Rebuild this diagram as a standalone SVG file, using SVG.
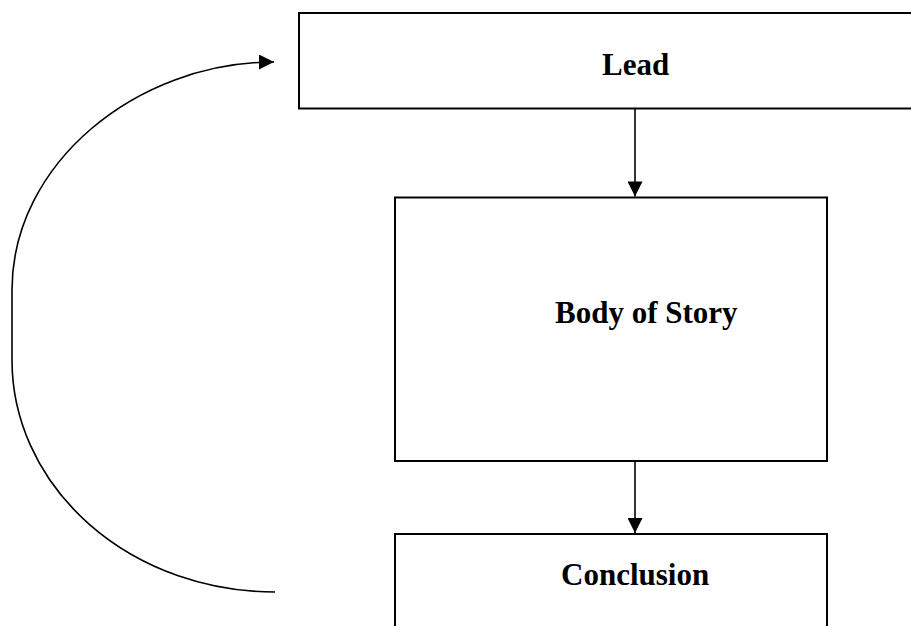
<svg xmlns="http://www.w3.org/2000/svg" width="911" height="626" viewBox="0 0 911 626">
<style>
.box{fill:#fff;stroke:#000;stroke-width:2}
.lbl{font-family:"Liberation Serif","Times New Roman",serif;font-weight:bold;font-size:31px;fill:#000}
.con{fill:none;stroke:#000;stroke-width:1.6}
</style>
<defs>
<marker id="ah" viewBox="0 0 10 10" refX="10" refY="5" markerWidth="10" markerHeight="10" markerUnits="userSpaceOnUse" orient="auto">
<path d="M0,0 L10,5 L0,10 Z" fill="#000"/>
</marker>
<marker id="ahv" viewBox="0 0 16 16" refX="16" refY="8" markerWidth="16" markerHeight="15" markerUnits="userSpaceOnUse" orient="auto">
<path d="M0,0 L16,8 L0,16 Z" fill="#000"/>
</marker>
</defs>
<rect width="911" height="626" fill="#fff"/>
<g id="lead">
<rect class="box" x="299" y="13" width="620" height="95.5"/>
<text class="lbl" x="602" y="75">Lead</text>
</g>
<g id="body">
<rect class="box" x="395" y="197.5" width="432" height="263.5"/>
<text class="lbl" x="555" y="322.5">Body of Story</text>
</g>
<g id="conclusion">
<rect class="box" x="395" y="534" width="432" height="100"/>
<text class="lbl" x="561" y="585">Conclusion</text>
</g>
<g id="connectors">
<line class="con" x1="635" y1="109" x2="635" y2="196.5" marker-end="url(#ahv)"/>
<line class="con" x1="635" y1="462" x2="635" y2="533" marker-end="url(#ahv)"/>
<path class="con" d="M275,592 A263,232 0 0 1 12,360 L12,290 C12,164 136,62 274,62" marker-end="url(#ahv)"/>
</g>
</svg>
